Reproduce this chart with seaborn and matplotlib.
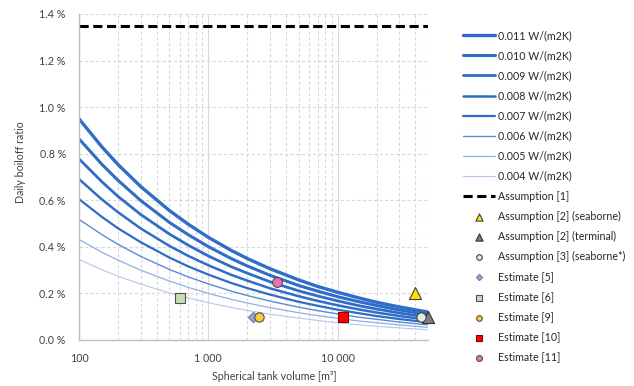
import numpy as np
import pandas as pd
import matplotlib
matplotlib.use("Agg")
import matplotlib.pyplot as plt
from matplotlib.ticker import FuncFormatter, LogLocator, NullFormatter
import seaborn as sns

# ---- data ----
volumes = [100, 150, 200, 300, 500, 700, 1000, 1500, 2000, 3000, 5000, 7000,
           10000, 15000, 20000, 30000, 50000]
conductivity_labels = ["0.011 W/(m2K)", "0.010 W/(m2K)", "0.009 W/(m2K)", "0.008 W/(m2K)",
                       "0.007 W/(m2K)", "0.006 W/(m2K)", "0.005 W/(m2K)", "0.004 W/(m2K)"]
bor_011 = [0.950, 0.830, 0.754, 0.659, 0.556, 0.497, 0.441, 0.385, 0.350, 0.306, 0.258,
           0.230, 0.205, 0.179, 0.162, 0.142, 0.120]
bor_010 = [0.864, 0.755, 0.686, 0.599, 0.505, 0.452, 0.401, 0.350, 0.318, 0.278, 0.234,
           0.210, 0.186, 0.163, 0.148, 0.129, 0.109]
bor_009 = [0.778, 0.680, 0.617, 0.539, 0.455, 0.407, 0.361, 0.315, 0.287, 0.250, 0.211,
           0.189, 0.168, 0.146, 0.133, 0.116, 0.098]
bor_008 = [0.691, 0.604, 0.549, 0.479, 0.404, 0.361, 0.321, 0.280, 0.255, 0.222, 0.188,
           0.168, 0.149, 0.130, 0.118, 0.103, 0.087]
bor_007 = [0.605, 0.529, 0.480, 0.420, 0.354, 0.316, 0.281, 0.245, 0.223, 0.195, 0.164,
           0.147, 0.130, 0.114, 0.103, 0.090, 0.076]
bor_006 = [0.518, 0.453, 0.411, 0.359, 0.303, 0.271, 0.241, 0.210, 0.191, 0.167, 0.141,
           0.126, 0.112, 0.097, 0.089, 0.077, 0.065]
bor_005 = [0.432, 0.377, 0.343, 0.300, 0.253, 0.226, 0.200, 0.175, 0.159, 0.139, 0.117,
           0.105, 0.093, 0.081, 0.074, 0.065, 0.054]
bor_004 = [0.346, 0.302, 0.274, 0.240, 0.202, 0.181, 0.160, 0.140, 0.127, 0.111, 0.094,
           0.084, 0.074, 0.065, 0.059, 0.052, 0.044]
curves = [bor_011, bor_010, bor_009, bor_008, bor_007, bor_006, bor_005, bor_004]

assumption1_label = "Assumption [1]"
assumption1_value = 1.35
assumption1_range = [100, 50000]

point_labels = ["Assumption [2] (seaborne)", "Assumption [2] (terminal)",
                "Assumption [3] (seaborne*)", "Estimate [5]", "Estimate [6]",
                "Estimate [9]", "Estimate [10]", "Estimate [11]"]
point_volume = [40000, 50000, 44000, 2200, 600, 2450, 11000, 3400]
point_bor = [0.20, 0.10, 0.10, 0.10, 0.18, 0.10, 0.10, 0.25]

# ---- styling ----
line_colors = ["#2F6DC6", "#2F6DC6", "#2F6DC6", "#2F6DC6", "#2F6DC6",
               "#5B8BD3", "#8FB0E2", "#B4C8EA"]
line_widths = [2.4, 2.2, 2.0, 1.8, 1.6, 1.0, 0.9, 0.8]
pt_markers = ["^", "^", "o", "D", "s", "o", "s", "o"]
pt_face = ["#FFE000", "#7F7F7F", "#E4EBDD", "#8EA5D8", "#C5DDB3", "#FFCC33", "#FF0000", "#E870BE"]
pt_edge = ["#404040", "#303030", "#404040", "#7080A8", "#505050", "#505050", "#8B0000", "#505050"]
pt_size = [75, 75, 45, 28, 45, 45, 60, 50]

FS = 7.7

sns.set_theme(style="white")
plt.rcParams["font.family"] = ["Lato", "DejaVu Sans"]
plt.rcParams["font.size"] = FS

fig = plt.figure(figsize=(6.34, 3.86), dpi=100)
ax = fig.add_axes([79 / 634, 1 - 340 / 386, (428 - 79) / 634, (340 - 14) / 386])

rows = []
for lab, vals in zip(conductivity_labels, curves):
    for v, b in zip(volumes, vals):
        rows.append({"volume": v, "bor": b, "k": lab})
df = pd.DataFrame(rows)

for lab, col, lw in zip(conductivity_labels, line_colors, line_widths):
    sub = df[df["k"] == lab]
    sns.lineplot(data=sub, x="volume", y="bor", color=col, linewidth=lw, ax=ax, label=lab)

sns.lineplot(x=assumption1_range, y=[assumption1_value] * 2, color="black", linewidth=2.2,
             linestyle=(0, (3, 1.5)), ax=ax, label=assumption1_label)

for lab, v, b, m, fc, ec, s in zip(point_labels, point_volume, point_bor, pt_markers,
                                    pt_face, pt_edge, pt_size):
    sns.scatterplot(x=[v], y=[b], marker=m, color=fc, edgecolor=ec, linewidth=0.8, s=s,
                    ax=ax, label=lab, zorder=5, clip_on=False)

ax.set_xscale("log")
ax.set_xlim(100, 50000)
ax.set_ylim(0, 1.4)
ax.set_yticks(np.arange(0, 1.41, 0.2))
ax.yaxis.set_major_formatter(FuncFormatter(lambda y, p: f"{y:.1f} %"))
ax.xaxis.set_major_locator(LogLocator(base=10, numticks=10))
ax.xaxis.set_minor_locator(LogLocator(base=10, subs=np.arange(2, 10), numticks=20))
ax.xaxis.set_minor_formatter(NullFormatter())
ax.xaxis.set_major_formatter(FuncFormatter(lambda x, p: f"{int(round(x)):,}".replace(",", " ")))

ax.grid(True, which="major", axis="x", color="#D9D9D9", linewidth=0.8, linestyle="-")
ax.grid(True, which="minor", axis="x", color="#D9D9D9", linewidth=0.8, linestyle=(0, (3, 2)))
ax.grid(True, which="major", axis="y", color="#D9D9D9", linewidth=0.8, linestyle=(0, (3, 2)))
ax.set_axisbelow(True)

for sp in ["top", "right"]:
    ax.spines[sp].set_visible(False)
for sp in ["left", "bottom"]:
    ax.spines[sp].set_color("#BFBFBF")
    ax.spines[sp].set_linewidth(1.0)

ax.tick_params(axis="both", which="both", length=0, labelsize=FS, colors="#404040", pad=9.5)
ax.set_xlabel("Spherical tank volume [m³]", fontsize=FS, color="#404040")
ax.set_ylabel("Daily boiloff ratio", fontsize=FS, color="#404040")
ax.xaxis.set_label_coords((274 - 79) / 349, (340 - 377) / 326)
ax.yaxis.set_label_coords((21 - 79) / 349, (340 - 162) / 326)
ax.xaxis.label.set_va("center")
ax.yaxis.label.set_va("center")

handles, labels = ax.get_legend_handles_labels()
ax.legend(handles, labels, loc="upper left", bbox_to_anchor=(463 / 634, 1 - 30 / 386),
          bbox_transform=fig.transFigure, frameon=False, fontsize=FS, borderpad=0,
          borderaxespad=0, handlelength=2.95, handletextpad=0.35, labelspacing=0.85,
          markerscale=0.6, labelcolor="#262626")

fig.savefig("out.png", dpi=100)
